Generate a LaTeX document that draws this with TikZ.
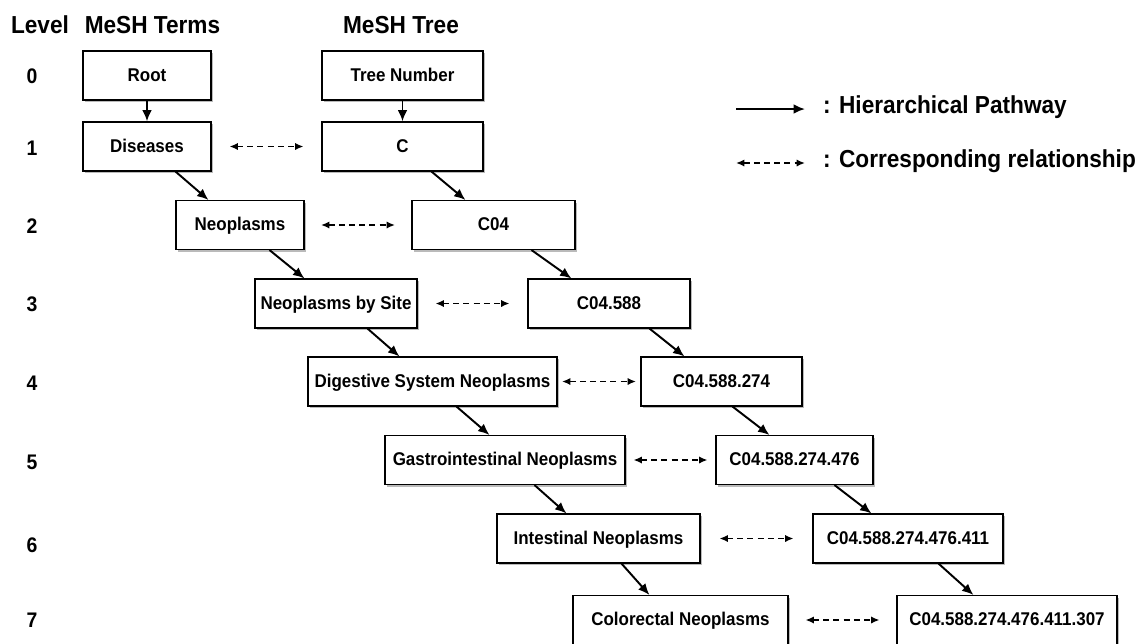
\documentclass[tikz,border=0pt]{standalone}
\usepackage{fontspec}
\setmainfont{Liberation Sans}[FakeStretch=0.92]
\usetikzlibrary{arrows.meta,calc,shadows}

\begin{document}
\begin{tikzpicture}[x=.02cm,y=-.02cm,>=Latex,font=\bfseries,
 meshbox/.style={draw,line width=.6pt,fill=white,minimum height=.98cm,inner sep=2pt,
  text height=1.55ex,text depth=.35ex,
  font=\bfseries\fontsize{10.5}{12}\selectfont,
  drop shadow={shadow xshift=1.2pt,shadow yshift=-1.4pt,fill=black!60,opacity=.45}},
 hier/.style={->,line width=1.1pt,>={Latex[length=6.5pt,width=5.5pt]}},
 corr/.style={<->,line width=.95pt,dash pattern=on 3.4pt off 2.4pt,>={Latex[length=4.8pt,width=4.2pt]}},
 head/.style={font=\bfseries\fontsize{14}{16}\selectfont},
 lvl/.style={font=\bfseries\fontsize{12}{14}\selectfont}]
\path[use as bounding box,clip] (0,0) rectangle (1147,643);
% column headers and levels
\node[head] (hlevel) at (40,25) {Level};
\node[head] (hterms) at (152.5,25) {MeSH Terms};
\node[head] (htree) at (401,25) {MeSH Tree};
\foreach \k/\y in {0/76,1/148,2/226,3/304,4/383,5/462,6/545,7/620}{
 \node[lvl] (lv\k) at (32,\y) {\k};
}
% boxes
\foreach \nm/\x/\y/\w/\txt in {root/147/75.5/128/Root,tree/402.5/75.5/161/Tree Number,
 dis/147/146.5/128/Diseases,c/402.5/146.5/161/C,
 neo/240/225/128/Neoplasms,c04/493.5/225/163/C04,
 nbs/336/303.5/162/Neoplasms by Site,c588/609/303.5/162/C04.588,
 dsn/432.5/381.5/249/Digestive System Neoplasms,c274/721.5/381.5/161/C04.588.274,
 gin/505/460/240/Gastrointestinal Neoplasms,c476/794.5/460/157/C04.588.274.476,
 int/598.5/538.5/203/Intestinal Neoplasms,c411/908/538.5/190/C04.588.274.476.411,
 col/680.5/620/215/Colorectal Neoplasms,c307/1007/620/220/C04.588.274.476.411.307}{
 \node[meshbox,minimum width=\w*.02cm] (\nm) at (\x,\y) {\txt};
}
% hierarchical pathways
\draw[hier] (root) -- (dis);
\draw[hier] (tree) -- (c);
\foreach \a/\da/\b/\db in {dis/93/neo/33,c/110/c04/54,neo/94/nbs/50,c04/120/c588/44,
 nbs/113/dsn/92,c588/122/c274/44,dsn/149/gin/105,c274/92/c476/54,
 gin/150/int/70,c476/119/c411/59,int/125/col/77,c411/126/c307/77}{
 \draw[hier] ($(\a.south west)+(\da,0)$) -- ($(\b.north west)+(\db,0)$);
}
% corresponding relationships
\foreach \a/\b in {dis/c,neo/c04,nbs/c588,dsn/c274,gin/c476,int/c411,col/c307}{
 \draw[corr] ($(\a.east)!.5!(\b.west)+(-37,0)$) -- ($(\a.east)!.5!(\b.west)+(37,0)$);
}
% legend
\coordinate (h0) at (736,109);
\coordinate (h1) at (805,109);
\coordinate (k0) at (736,163);
\coordinate (k1) at (805,163);
\draw[hier] (h0) -- (h1);
\draw[corr] (k0) -- (k1);
\node[head,anchor=west] (hlab) at (817,107) {: Hierarchical Pathway};
\node[head,anchor=west] (klab) at (817,161) {: Corresponding relationship};
\end{tikzpicture}
\end{document}
